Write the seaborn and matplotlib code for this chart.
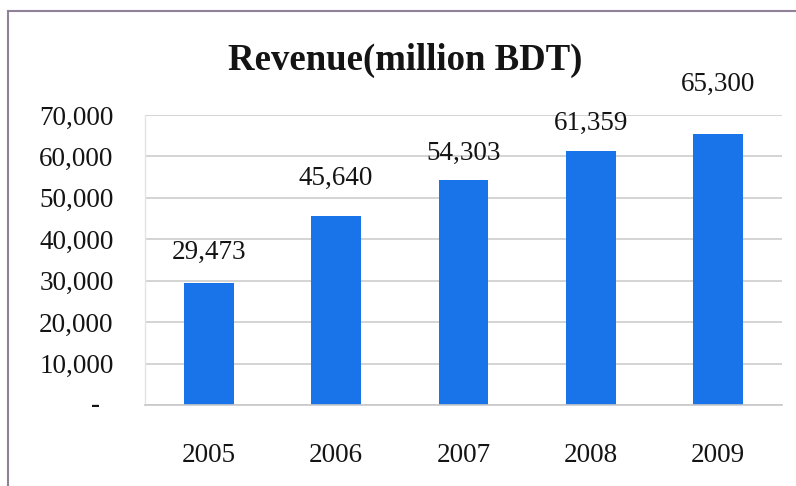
import matplotlib
matplotlib.use("Agg")
import matplotlib.pyplot as plt
from matplotlib.patches import Rectangle
from matplotlib.ticker import FixedLocator, FuncFormatter
import seaborn as sns
import pandas as pd

# Annual revenue, million BDT
years = ["2005", "2006", "2007", "2008", "2009"]
revenue = [29473, 45640, 54303, 61359, 65300]
y_ticks = [0, 10000, 20000, 30000, 40000, 50000, 60000, 70000]

# Vertical gap (pixels) between each bar top and its value label
label_gap_px = [30, 38, 27, 27, 50]

df = pd.DataFrame({"year": years, "revenue": revenue})

sns.set_theme(style="white")
plt.rcParams["font.family"] = ["Liberation Serif", "DejaVu Serif"]

fig = plt.figure(figsize=(7.96, 4.86), dpi=100)
ax = fig.add_axes([145 / 796, 81 / 486, 637 / 796, 290 / 486])

bar_blue = "#1874E8"
sns.barplot(data=df, x="year", y="revenue", color=bar_blue, width=0.39,
            saturation=1, ax=ax)
for p in ax.patches:
    p.set_edgecolor("none")

ax.set_xlim(-0.5, len(years) - 0.5)
ax.set_ylim(0, 70000)
ax.set_xlabel("")
ax.set_ylabel("")

# Gridlines
ax.yaxis.set_major_locator(FixedLocator(y_ticks))
ax.grid(axis="y", color="#d4d4d4", linewidth=1.4)
ax.set_axisbelow(True)

text_color = "#141414"
label_size = 19.5

# Y labels: thousands separator, zero shown as a dash
ax.yaxis.set_major_formatter(
    FuncFormatter(lambda v, _: "" if v == 0 else f"{int(v):,}"))
ax.text(-0.077, 0, "-", transform=ax.get_yaxis_transform(), ha="center",
        va="center", fontsize=label_size, fontweight="bold", color=text_color)
ax.tick_params(axis="y", length=3, color="#d4d4d4", pad=19.5,
               labelsize=label_size, labelcolor=text_color)

# X labels with category-boundary minor ticks
ax.tick_params(axis="x", which="major", length=0, pad=27,
               labelsize=label_size, labelcolor=text_color)
ax.set_xticks([i - 0.5 for i in range(len(years) + 1)], minor=True)
ax.tick_params(axis="x", which="minor", length=6, color="#c8c8c8", width=1)

for s in ["top", "right"]:
    ax.spines[s].set_visible(False)
ax.spines["bottom"].set_color("#c8c8c8")
ax.spines["bottom"].set_linewidth(1.2)
ax.spines["left"].set_color("#e4e4e4")
ax.spines["left"].set_linewidth(1.0)

# Value labels above the bars
for i, (v, gap) in enumerate(zip(revenue, label_gap_px)):
    ax.annotate(f"{v:,}", xy=(i, v), xytext=(0, gap),
                textcoords="offset pixels", ha="center", va="center",
                fontsize=label_size, color=text_color)

fig.text(405 / 796, 1 - 60 / 486, "Revenue(million BDT)", ha="center",
         va="center", fontsize=26.5, fontweight="bold", color=text_color)

# Outer chart frame
fig.patches.append(Rectangle((8 / 796, -0.05), 1.0, 1 - 11 / 486 + 0.05,
                             transform=fig.transFigure, fill=False,
                             edgecolor="#8f8298", linewidth=1.5))

fig.savefig("out.png", dpi=100)
